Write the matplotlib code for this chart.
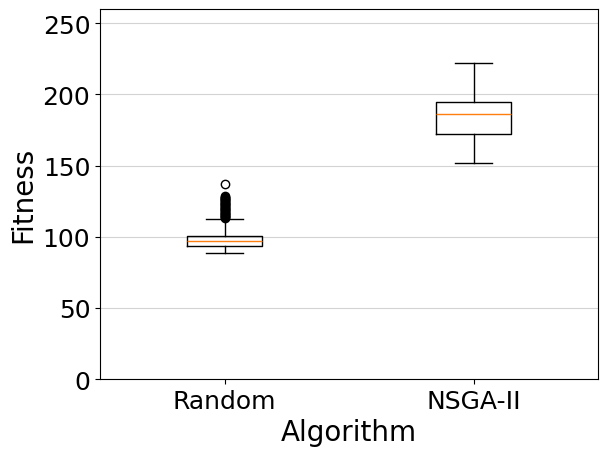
import matplotlib
matplotlib.use('Agg')
import matplotlib.pyplot as plt

# Box statistics
algorithms = ['Random', 'NSGA-II']
medians = [96.7, 185.9]
q1s = [93.2, 172.5]
q3s = [100.8, 195.0]
whisker_lows = [88.3, 151.5]
whisker_highs = [112.2, 222.3]
random_fliers = [113.0, 113.5, 114.0, 114.5, 115.0, 115.5, 116.0, 116.5, 117.0,
                 117.5, 118.0, 118.5, 119.0, 119.5, 120.0, 120.5, 121.0, 121.5,
                 122.0, 122.5, 123.0, 123.5, 124.0, 124.5, 125.0, 125.5, 126.0,
                 126.5, 127.0, 127.5, 128.0, 128.5, 136.7]
nsga_fliers = []
fliers = [random_fliers, nsga_fliers]

stats = []
for i, name in enumerate(algorithms):
    stats.append({
        'label': name,
        'med': medians[i],
        'q1': q1s[i],
        'q3': q3s[i],
        'whislo': whisker_lows[i],
        'whishi': whisker_highs[i],
        'fliers': fliers[i],
    })

fig = plt.figure(figsize=(6.07, 4.56), dpi=100)
ax = fig.add_axes([100 / 607, 1 - 380 / 456, 498 / 607, 370 / 456])

ax.bxp(stats, positions=[1, 2], widths=0.3)
ax.set_xlim(0.5, 2.5)
ax.set_ylim(0, 260)
ax.yaxis.grid(True, color='lightgray')
ax.set_axisbelow(True)
ax.set_xlabel('Algorithm', fontsize=20)
ax.set_ylabel('Fitness', fontsize=20)
ax.tick_params(labelsize=18)

plt.savefig('out.png', dpi=100)
plt.close()
